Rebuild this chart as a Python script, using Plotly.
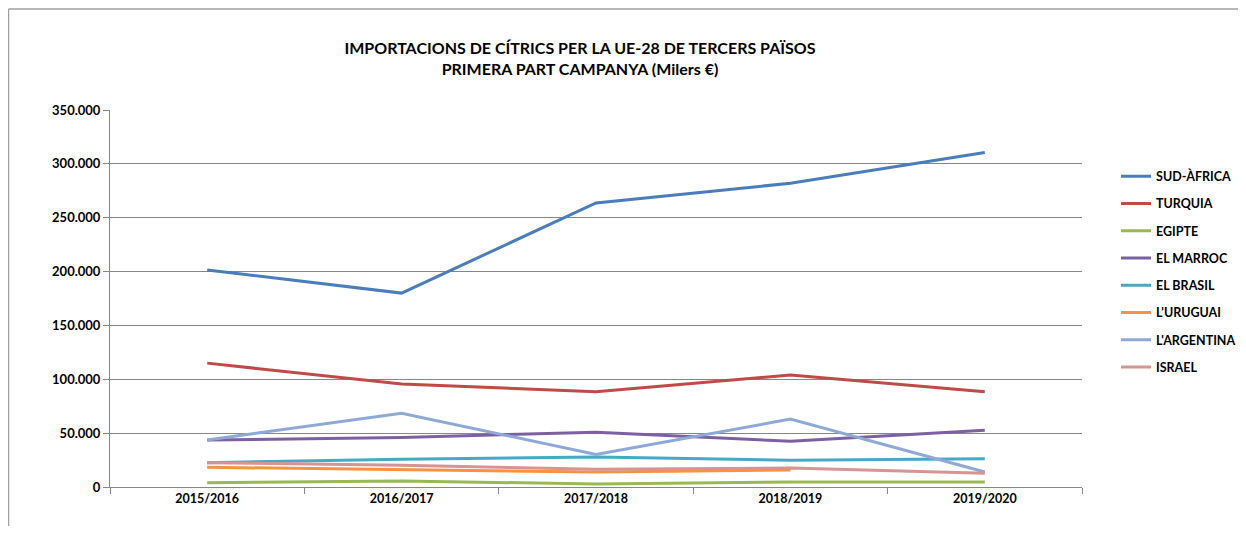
import plotly.graph_objects as go

campaigns = ["2015/2016", "2016/2017", "2017/2018", "2018/2019", "2019/2020"]

sud_africa = [201500, 180000, 263700, 282000, 310500]
turquia = [115000, 95600, 88500, 104000, 88500]
egipte = [4000, 5600, 2800, 4600, 4600]
el_marroc = [43600, 46000, 50800, 42400, 52600]
el_brasil = [22600, 25700, 27900, 24800, 26300]
l_uruguai = [18300, 16100, 13900, 15800, None]
l_argentina = [43600, 68400, 30300, 63000, 13900]
israel = [22600, 20100, 16400, 17600, 12700]

series = [
    ("SUD-ÀFRICA", sud_africa, "#4A7EBB"),
    ("TURQUIA", turquia, "#BE4B48"),
    ("EGIPTE", egipte, "#98B954"),
    ("EL MARROC", el_marroc, "#7D60A0"),
    ("EL BRASIL", el_brasil, "#46AAC5"),
    ("L'URUGUAI", l_uruguai, "#F69240"),
    ("L'ARGENTINA", l_argentina, "#8EA9D6"),
    ("ISRAEL", israel, "#D69492"),
]

FONT = "Lato"
OFF = 8  # page body margin
W, H = 1246 - 2 * OFF, 534 - 2 * OFF

fig = go.Figure()
for name, vals, col in series:
    fig.add_trace(go.Scatter(
        x=campaigns, y=vals, name=name, mode="lines",
        line=dict(color=col, width=3), legendgroup=name,
        connectgaps=False,
    ))

fig.update_layout(
    width=W, height=H,
    margin=dict(l=110 - OFF, r=W - (1082 - OFF), t=110 - OFF, b=H - (487 - OFF),
                autoexpand=False),
    paper_bgcolor="white", plot_bgcolor="white",
    separators=",.",
    font=dict(family=FONT, size=12, color="#000000"),
    title=dict(
        text="<b>IMPORTACIONS DE CÍTRICS PER LA UE-28 DE TERCERS PAÏSOS<br>PRIMERA PART CAMPANYA (Milers €)</b>",
        x=(580 - OFF) / W, xanchor="center", y=1 - 46 / H, yanchor="top",
        font=dict(family=FONT, size=16, color="#000000"),
    ),
    legend=dict(
        x=1.035, xanchor="left", y=0.863, yanchor="top",
        traceorder="grouped", tracegroupgap=8,
        font=dict(family=FONT, size=12.5, color="#000000", weight="bold"),
        itemwidth=30, bgcolor="rgba(0,0,0,0)",
    ),
    showlegend=True,
)

fig.update_xaxes(
    type="category", range=[-0.5, 4.5],
    showline=True, linecolor="#868686", linewidth=1,
    ticks="outside", tickson="boundaries", ticklen=6, tickcolor="#868686",
    showgrid=False, zeroline=False,
    tickfont=dict(family=FONT, size=12.5, color="#000000", weight="bold"),
)
fig.update_yaxes(
    range=[0, 350000], tickvals=[0, 50000, 100000, 150000, 200000, 250000, 300000, 350000],
    tickformat=",.0f",
    showline=True, linecolor="#868686", linewidth=1,
    ticks="outside", ticklen=6, tickcolor="#868686",
    showgrid=True, gridcolor="#868686", gridwidth=1,
    zeroline=False,
    tickfont=dict(family=FONT, size=13, color="#000000", weight="bold"),
)

# chart-area frame: top and left edges (as in the reference)
fig.add_shape(type="line", xref="paper", yref="paper",
              x0=-101.5 / 972, x1=(W - 102) / 972, y0=(487 - 9) / 377, y1=(487 - 9) / 377,
              line=dict(color="#A0A0A0", width=1.5), layer="below")
fig.add_shape(type="line", xref="paper", yref="paper",
              x0=-101.5 / 972, x1=-101.5 / 972, y0=-60 / 377, y1=(487 - 9) / 377,
              line=dict(color="#A0A0A0", width=1.5), layer="below")

fig.write_html("out.html")
